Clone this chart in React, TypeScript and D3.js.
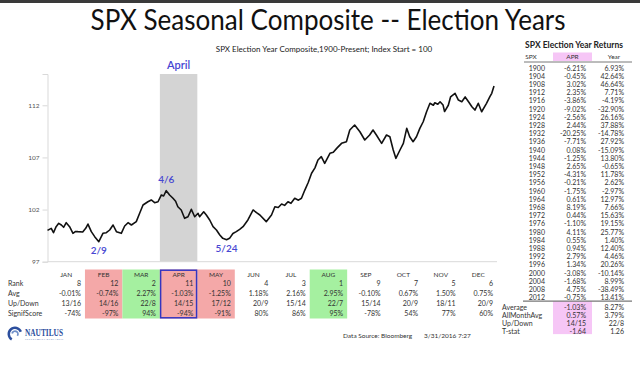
import React, { useEffect, useRef } from "react";
import * as d3 from "d3";

// composite path: [month position (0 = Jan 1, 12 = Dec 31), index value]
const compositePath: [number, number][] = [
  [0, 100.0], [0.1, 100.2], [0.16, 99.78], [0.23, 100.36], [0.3, 100.68], [0.37, 100.52],
  [0.43, 100.3], [0.5, 100.74], [0.59, 100.36], [0.68, 99.72], [0.75, 99.9], [0.81, 99.88],
  [0.94, 99.85], [1.02, 100.2], [1.08, 100.61], [1.17, 99.88], [1.26, 99.4], [1.37, 98.92],
  [1.48, 99.72], [1.57, 99.78], [1.66, 100.04], [1.75, 100.52], [1.84, 99.88], [1.97, 99.72],
  [2.06, 100.42], [2.15, 100.74], [2.24, 100.52], [2.37, 100.84], [2.46, 101.64], [2.55, 102.44],
  [2.68, 102.75], [2.77, 102.92], [2.86, 102.66], [2.95, 102.75], [3.04, 103.4], [3.1, 103.3],
  [3.17, 103.81], [3.26, 103.4], [3.35, 103.08], [3.42, 102.8], [3.48, 102.27], [3.57, 101.96],
  [3.66, 101.16], [3.75, 101.31], [3.84, 102.02], [3.93, 101.31], [4.02, 101.64], [4.06, 101.31],
  [4.17, 101.79], [4.24, 101.48], [4.33, 101.0], [4.42, 100.36], [4.51, 100.04], [4.6, 99.56],
  [4.68, 99.24], [4.78, 99.1], [4.86, 99.24], [4.95, 99.7], [5.04, 99.88], [5.13, 100.1],
  [5.22, 100.36], [5.35, 101.0], [5.49, 101.96], [5.58, 101.7], [5.67, 101.48], [5.84, 100.84],
  [5.98, 101.48], [6.07, 102.27], [6.16, 102.2], [6.25, 102.53], [6.33, 102.4], [6.42, 102.75],
  [6.5, 102.6], [6.6, 103.08], [6.7, 102.9], [6.78, 103.08], [6.87, 103.87], [6.96, 104.6],
  [7.05, 105.48], [7.14, 106.0], [7.22, 106.75], [7.31, 107.07], [7.4, 106.43], [7.54, 107.39],
  [7.63, 107.5], [7.72, 107.87], [7.85, 108.35], [7.98, 108.51], [8.07, 109.63], [8.2, 110.11],
  [8.34, 109.46], [8.47, 108.67], [8.6, 109.15], [8.69, 109.63], [8.78, 109.15], [8.92, 108.35],
  [9.05, 109.15], [9.14, 108.98], [9.23, 107.71], [9.3, 106.91], [9.41, 107.71], [9.5, 108.35],
  [9.59, 109.79], [9.67, 108.98], [9.76, 108.51], [9.85, 108.98], [9.94, 109.79], [10.03, 110.42],
  [10.12, 111.38], [10.21, 112.19], [10.3, 112.0], [10.34, 112.24], [10.42, 112.1], [10.48, 112.34],
  [10.56, 112.02], [10.6, 111.4], [10.7, 112.0], [10.76, 112.8], [10.88, 113.15], [10.97, 112.5],
  [11.06, 112.34], [11.15, 112.8], [11.24, 112.34], [11.33, 111.86], [11.41, 111.54], [11.5, 112.19],
  [11.59, 111.38], [11.72, 112.19], [11.81, 112.82], [11.86, 113.15], [11.92, 113.85],
];

const yTicks = [97, 102, 107, 112];

const months = ["JAN", "FEB", "MAR", "APR", "MAY", "JUN", "JUL", "AUG", "SEP", "OCT", "NOV", "DEC"];
const monthRank = ["8", "12", "2", "11", "10", "4", "3", "1", "9", "7", "5", "6"];
const monthAvg = ["-0.01%", "-0.74%", "2.27%", "-1.03%", "-1.25%", "1.18%", "2.16%", "2.95%", "-0.10%", "0.67%", "1.50%", "0.75%"];
const monthUpDown = ["13/16", "14/16", "22/8", "14/15", "17/12", "20/9", "15/14", "22/7", "15/14", "20/9", "18/11", "20/9"];
const monthSignif = ["-74%", "-97%", "94%", "-94%", "-91%", "80%", "86%", "95%", "-78%", "54%", "77%", "60%"];
const rowLabels = ["Rank", "Avg", "Up/Down", "SignifScore"];
const redMonths = ["FEB", "APR", "MAY"];
const greenMonths = ["MAR", "AUG"];

const electionYears = ["1900", "1904", "1908", "1912", "1916", "1920", "1924", "1928", "1932", "1936", "1940", "1944", "1948", "1952", "1956", "1960", "1964", "1968", "1972", "1976", "1980", "1984", "1988", "1992", "1996", "2000", "2004", "2008", "2012"];
const aprReturns = ["-6.21%", "-0.45%", "3.02%", "2.35%", "-3.86%", "-9.02%", "-2.56%", "2.44%", "-20.25%", "-7.71%", "0.08%", "-1.25%", "2.65%", "-4.31%", "-0.21%", "-1.75%", "0.61%", "8.19%", "0.44%", "-1.10%", "4.11%", "0.55%", "0.94%", "2.79%", "1.34%", "-3.08%", "-1.68%", "4.75%", "-0.75%"];
const yearReturns = ["6.93%", "42.64%", "46.64%", "7.71%", "-4.19%", "-32.90%", "26.16%", "37.88%", "-14.78%", "27.92%", "-15.09%", "13.80%", "-0.65%", "11.78%", "2.62%", "-2.97%", "12.97%", "7.66%", "15.63%", "19.15%", "25.77%", "1.40%", "12.40%", "4.46%", "20.26%", "-10.14%", "8.99%", "-38.49%", "13.41%"];
const summaryLabels = ["Average", "AllMonthAvg", "Up/Down", "T-stat"];
const summaryApr = ["-1.03%", "0.57%", "14/15", "-1.64"];
const summaryYear = ["8.27%", "3.79%", "22/8", "1.26"];

const annotations = [
  { label: "2/9", m: 1.37, v: 98.92, dy: 12 },
  { label: "4/6", m: 3.17, v: 103.81, dy: -8 },
  { label: "5/24", m: 4.78, v: 99.1, dy: 12 },
];

const FONT = "Lato, 'Open Sans', sans-serif";
const BLUE = "#4646d2";

export default function App() {
  const ref = useRef<SVGSVGElement>(null);

  useEffect(() => {
    const svg = d3.select(ref.current);
    svg.selectAll("*").remove();

    const width = 640, height = 365;
    const x = d3.scaleLinear().domain([0, 12]).range([47.5, 497]);
    const y = d3.scaleLinear().domain([97, 115]).range([261.7, 74]);

    svg.append("rect").attr("width", width).attr("height", height).attr("fill", "#fff");
    svg.append("rect").attr("width", width).attr("height", 3).attr("fill", "#3a3a3a");

    // titles
    svg.append("text")
      .attr("x", 328).attr("y", 30).attr("text-anchor", "middle")
      .attr("font-family", FONT).attr("font-size", 28).attr("fill", "#111")
      .attr("textLength", 475).attr("lengthAdjust", "spacingAndGlyphs")
      .text("SPX Seasonal Composite -- Election Years");
    svg.append("text")
      .attr("x", 324).attr("y", 52).attr("text-anchor", "middle")
      .attr("font-family", FONT).attr("font-size", 8).attr("fill", "#222")
      .text("SPX Election Year Composite,1900-Present; Index Start = 100");

    // april band
    svg.append("rect")
      .attr("x", x(3)).attr("y", y(115)).attr("width", x(4) - x(3)).attr("height", y(97) - y(115))
      .attr("fill", "#d4d4d4");
    svg.append("text")
      .attr("x", (x(3) + x(4)) / 2).attr("y", 69).attr("text-anchor", "middle")
      .attr("font-family", FONT).attr("font-size", 11).attr("font-weight", 600).attr("fill", BLUE)
      .text("April");

    // axes
    const yAxis = svg.append("g")
      .attr("transform", `translate(${x(0)},0)`)
      .call(d3.axisLeft(y).tickValues(yTicks).tickSize(5).tickPadding(3).tickFormat(d3.format("d")));
    yAxis.select(".domain").attr("stroke", "#d9d9d9");
    yAxis.selectAll(".tick line").attr("stroke", "#d9d9d9");
    yAxis.selectAll(".tick text").attr("font-family", FONT).attr("font-size", 6.5).attr("fill", "#555");
    svg.append("line")
      .attr("x1", x(0)).attr("x2", x(12)).attr("y1", y(97)).attr("y2", y(97))
      .attr("stroke", "#d9d9d9");

    // composite line
    const line = d3.line<[number, number]>().x((d) => x(d[0])).y((d) => y(d[1]));
    svg.append("path")
      .attr("d", line(compositePath))
      .attr("fill", "none").attr("stroke", "#111").attr("stroke-width", 1.6)
      .attr("stroke-linejoin", "round");

    svg.selectAll(".note")
      .data(annotations)
      .join("text")
      .attr("class", "note")
      .attr("x", (d) => x(d.m)).attr("y", (d) => y(d.v) + d.dy)
      .attr("text-anchor", "middle")
      .attr("font-family", FONT).attr("font-size", 10).attr("font-weight", 600).attr("fill", BLUE)
      .text((d) => d.label);

    // monthly stats table
    const colW = x(1) - x(0);
    const rowY = [283.5, 293.5, 303.2, 313];
    const rows = [monthRank, monthAvg, monthUpDown, monthSignif];
    const cells = svg.append("g");
    cells.selectAll("rect")
      .data(months)
      .join("rect")
      .attr("x", (d, i) => x(i)).attr("y", 269.5)
      .attr("width", colW).attr("height", 49)
      .attr("fill", (d) => (redMonths.includes(d) ? "#f4a8a8" : greenMonths.includes(d) ? "#a5f0a0" : "none"));
    cells.append("rect")
      .attr("x", x(3) + 0.75).attr("y", 270.2).attr("width", colW - 1.5).attr("height", 47.6)
      .attr("fill", "none").attr("stroke", "#3535c0").attr("stroke-width", 1.5);
    cells.selectAll(".mhead")
      .data(months)
      .join("text")
      .attr("class", "mhead")
      .attr("x", (d, i) => x(i + 0.5)).attr("y", 276.5).attr("text-anchor", "middle")
      .attr("font-family", FONT).attr("font-size", 6.5).attr("fill", "#333")
      .text((d) => d);
    rows.forEach((row, r) => {
      cells.selectAll(`.r${r}`)
        .data(row)
        .join("text")
        .attr("class", `r${r}`)
        .attr("x", (d, i) => x(i + 1) - 4).attr("y", rowY[r] + 2.5).attr("text-anchor", "end")
        .attr("font-family", FONT).attr("font-size", 7).attr("fill", "#333")
        .text((d) => d);
    });
    cells.selectAll(".rlab")
      .data(rowLabels)
      .join("text")
      .attr("class", "rlab")
      .attr("x", 8).attr("y", (d, i) => rowY[i] + 2.5)
      .attr("font-family", FONT).attr("font-size", 7).attr("fill", "#333")
      .text((d) => d);

    // right side returns table
    const tb = svg.append("g").attr("font-family", FONT).attr("fill", "#333");
    const rowStep = 8.2;
    const firstRow = 68;
    tb.append("text")
      .attr("x", 574).attr("y", 48).attr("text-anchor", "middle")
      .attr("font-size", 8.5).attr("font-weight", 700).attr("fill", "#222")
      .text("SPX Election Year Returns");
    tb.append("rect").attr("x", 553).attr("y", 52.5).attr("width", 39).attr("height", 8.5).attr("fill", "#f6c6f6");
    tb.append("rect").attr("x", 553).attr("y", firstRow + 28 * rowStep + 3.5).attr("width", 39).attr("height", 33).attr("fill", "#f6c6f6");
    [["SPX", 531], ["APR", 572.5], ["Year", 614]].forEach(([t, cx]) => {
      tb.append("text")
        .attr("x", cx).attr("y", 59).attr("text-anchor", "middle")
        .attr("font-size", 6.5).text(t as string);
    });
    tb.append("line").attr("x1", 524).attr("x2", 632).attr("y1", 62).attr("y2", 62).attr("stroke", "#555").attr("stroke-width", 0.8);
    tb.append("line")
      .attr("x1", 523).attr("x2", 632)
      .attr("y1", firstRow + 28 * rowStep + 3.5).attr("y2", firstRow + 28 * rowStep + 3.5)
      .attr("stroke", "#777").attr("stroke-width", 1.2);

    const cols: [string[], number][] = [[electionYears, 545], [aprReturns, 586], [yearReturns, 624]];
    cols.forEach(([vals, xr], c) => {
      tb.selectAll(`.c${c}`)
        .data(vals)
        .join("text")
        .attr("class", `c${c}`)
        .attr("x", xr).attr("y", (d, i) => firstRow + i * rowStep + 2.5).attr("text-anchor", "end")
        .attr("font-size", 7).text((d) => d);
    });
    const sumTop = firstRow + 29 * rowStep + 1.5;
    tb.selectAll(".slab")
      .data(summaryLabels)
      .join("text")
      .attr("class", "slab")
      .attr("x", 502).attr("y", (d, i) => sumTop + i * rowStep + 2.5)
      .attr("font-size", 7).text((d) => d);
    tb.selectAll(".sapr")
      .data(summaryApr)
      .join("text")
      .attr("class", "sapr")
      .attr("x", 586).attr("y", (d, i) => sumTop + i * rowStep + 2.5).attr("text-anchor", "end")
      .attr("font-size", 7).text((d) => d);
    tb.selectAll(".syr")
      .data(summaryYear)
      .join("text")
      .attr("class", "syr")
      .attr("x", 624).attr("y", (d, i) => sumTop + i * rowStep + 2.5).attr("text-anchor", "end")
      .attr("font-size", 7).text((d) => d);

    // footer
    svg.append("text")
      .attr("x", 343).attr("y", 338)
      .attr("font-family", FONT).attr("font-size", 6.5).attr("fill", "#333")
      .text("Data Source: Bloomberg");
    svg.append("text")
      .attr("x", 424).attr("y", 338)
      .attr("font-family", FONT).attr("font-size", 6.5).attr("fill", "#333")
      .text("3/31/2016 7:27");

    // logo
    const logo = svg.append("g").attr("transform", "translate(15,334)");
    const arc = d3.arc<any>();
    logo.append("path")
      .attr("d", arc({ innerRadius: 5, outerRadius: 7.5, startAngle: -2.6, endAngle: 1.2 }))
      .attr("fill", "#2c4f9e");
    logo.append("path")
      .attr("d", arc({ innerRadius: 2, outerRadius: 3.8, startAngle: -1.4, endAngle: 2.2 }))
      .attr("fill", "#6f8fc8");
    svg.append("text")
      .attr("x", 25).attr("y", 336)
      .attr("font-family", "'Liberation Serif', serif").attr("font-size", 9.5).attr("font-weight", 700)
      .attr("fill", "#2c4f9e").attr("textLength", 38).attr("lengthAdjust", "spacingAndGlyphs")
      .text("NAUTILUS");
    svg.append("text")
      .attr("x", 25).attr("y", 340)
      .attr("font-family", "'Liberation Serif', serif").attr("font-size", 2.6)
      .attr("fill", "#2c4f9e").attr("textLength", 38)
      .text("INVESTMENT RESEARCH");
  }, []);

  return (
    <svg
      ref={ref}
      width={640}
      height={365}
      style={{ position: "absolute", left: 0, top: 0, display: "block" }}
    />
  );
}
